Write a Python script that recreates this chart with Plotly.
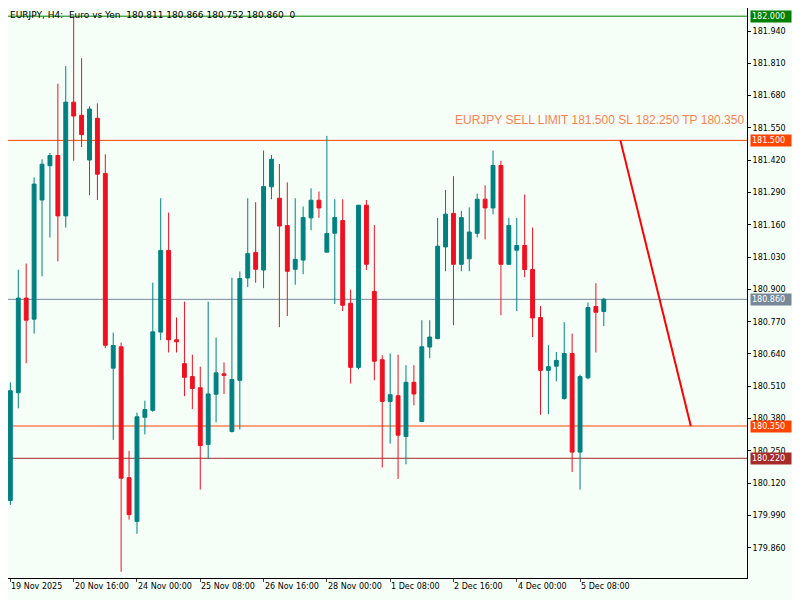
import plotly.graph_objects as go

# H4 bars
opens = [180.050, 180.484, 180.865, 180.780, 181.260, 181.398, 181.439, 181.196, 181.654, 181.601,
         181.421, 181.589, 181.367, 180.583, 180.669, 180.142, 179.966, 180.385, 180.413, 180.728,
         181.057, 180.697, 180.601, 180.549, 180.504, 180.276, 180.478, 180.560, 180.328, 180.534,
         180.946, 181.049, 180.978, 181.313, 181.267, 181.157, 180.981, 181.018, 181.188, 181.259,
         181.050, 181.126, 181.177, 180.844, 180.586, 181.239, 180.892, 180.617, 180.449, 180.472,
         180.308, 180.526, 180.368, 180.668, 180.702, 181.071, 181.206, 181.001, 181.023, 181.126,
         181.263, 181.228, 181.399, 181.001, 181.058, 181.077, 180.980, 180.787, 180.574, 180.591,
         180.461, 180.642, 180.245, 180.544, 180.831, 180.811]
highs = [180.526, 180.979, 181.004, 181.351, 181.424, 181.449, 181.728, 181.799, 182.003, 181.831,
         181.637, 181.649, 181.444, 180.726, 180.686, 180.250, 180.404, 180.452, 180.927, 181.267,
         181.209, 180.787, 180.851, 180.637, 180.589, 180.851, 180.706, 180.606, 180.947, 180.972,
         181.267, 181.251, 181.459, 181.441, 181.405, 181.331, 181.267, 181.234, 181.307, 181.294,
         181.518, 181.263, 181.263, 180.899, 181.239, 181.260, 181.159, 180.635, 180.642, 180.637,
         180.595, 180.595, 180.776, 180.776, 181.188, 181.300, 181.356, 181.216, 181.230, 181.285,
         181.319, 181.459, 181.418, 181.188, 181.188, 181.282, 181.149, 180.833, 180.675, 180.648,
         180.768, 180.722, 180.557, 180.847, 180.925, 180.866]
lows = [180.032, 180.421, 180.603, 180.722, 180.953, 181.109, 181.013, 181.149, 181.418, 181.473,
        181.279, 181.260, 180.663, 180.294, 179.763, 179.973, 179.916, 180.316, 180.407, 180.696,
        180.646, 180.646, 180.470, 180.418, 180.094, 180.217, 180.365, 180.479, 180.324, 180.336,
        180.909, 180.927, 180.905, 181.263, 180.748, 180.793, 180.919, 180.961, 181.138, 181.188,
        181.050, 180.841, 180.813, 180.521, 180.578, 180.978, 180.534, 180.183, 180.279, 180.137,
        180.196, 180.433, 180.368, 180.623, 180.699, 180.973, 180.756, 180.973, 180.973, 181.109,
        181.101, 181.202, 180.796, 180.998, 180.813, 180.949, 180.708, 180.395, 180.398, 180.530,
        180.456, 180.165, 180.094, 180.538, 180.646, 180.752]
closes = [180.492, 180.865, 180.776, 181.324, 181.404, 181.439, 181.196, 181.654, 181.598, 181.523,
          181.626, 181.364, 180.675, 180.674, 180.140, 179.993, 180.387, 180.416, 180.729, 181.057,
          180.697, 180.689, 180.546, 180.501, 180.271, 180.479, 180.564, 180.554, 180.537, 180.944,
          181.044, 180.981, 181.314, 181.424, 181.155, 180.973, 181.021, 181.189, 181.259, 181.228,
          181.125, 181.189, 180.836, 180.586, 181.239, 181.001, 180.611, 180.449, 180.476, 180.313,
          180.526, 180.479, 180.669, 180.708, 181.074, 181.203, 181.001, 181.189, 181.131, 181.263,
          181.228, 181.399, 181.001, 181.157, 181.077, 180.980, 180.785, 180.574, 180.589, 180.614,
          180.642, 180.245, 180.549, 180.827, 180.808, 180.860]

date_labels = ["19 Nov 2025", "20 Nov 16:00", "24 Nov 00:00", "25 Nov 08:00", "26 Nov 16:00",
               "28 Nov 00:00", "1 Dec 08:00", "2 Dec 16:00", "4 Dec 00:00", "5 Dec 08:00"]
date_bars = [0, 8, 16, 24, 32, 40, 48, 56, 64, 72]

price_ticks = [181.940, 181.810, 181.680, 181.550, 181.420, 181.290, 181.160, 181.030, 180.900,
               180.770, 180.640, 180.510, 180.380, 180.250, 180.120, 179.990, 179.860]

# horizontal levels: price, colour
levels = [(182.000, "#008000"),
          (181.500, "#FF4500"),
          (180.860, "#778899"),
          (180.350, "#FF4500"),
          (180.220, "#A52A2A")]

trend_x = [77.1, 86.0]
trend_y = [181.500, 180.350]

bars = list(range(len(opens)))
teal = "#008080"
red = "#EE1122"
small = dict(size=8, color="black", family="DejaVu Sans")

fig = go.Figure()
fig.add_trace(go.Candlestick(
    x=bars, open=opens, high=highs, low=lows, close=closes,
    increasing=dict(line=dict(color=teal, width=1), fillcolor=teal),
    decreasing=dict(line=dict(color=red, width=1), fillcolor=red),
    whiskerwidth=0, hoverinfo="skip", showlegend=False))

for p, c in levels:
    fig.add_shape(type="line", xref="paper", x0=0, x1=1, y0=p, y1=p,
                  line=dict(color=c, width=1), layer="below")
    fig.add_annotation(xref="paper", x=1.004, y=p, xanchor="left", text=f"{p:.3f}",
                       showarrow=False, bgcolor=c, font=dict(color="white", size=8, family="DejaVu Sans"),
                       borderpad=1, width=38, align="left")

fig.add_trace(go.Scatter(x=trend_x, y=trend_y, mode="lines", line=dict(color="#FF0000", width=2),
                         hoverinfo="skip", showlegend=False))

fig.add_annotation(xref="paper", x=0.998, y=181.545, yanchor="bottom", xanchor="right",
                   text="EURJPY SELL LIMIT 181.500 SL 182.250 TP 180.350", showarrow=False,
                   font=dict(color="#FF7F50", size=12, family="Liberation Sans"))
fig.add_annotation(xref="paper", yref="paper", x=0.0, y=1.0, xanchor="left", yanchor="top",
                   text="EURJPY, H4:  Euro vs Yen  180.811 180.866 180.752 180.860  0",
                   showarrow=False, font=dict(size=9, color="black", family="DejaVu Sans"))

for b, lab in zip(date_bars, date_labels):
    fig.add_annotation(x=b, yref="paper", y=0, yanchor="top", xanchor="left", text=lab,
                       showarrow=False, xshift=-1, yshift=-2, font=small)

fig.update_layout(
    width=792, height=592, margin=dict(l=0, r=53, t=0, b=22, autoexpand=False),
    plot_bgcolor="#F5FFF8", paper_bgcolor="#F5FFF8",
    xaxis=dict(range=[-0.3, 93.1], rangeslider=dict(visible=False), showgrid=False,
               zeroline=False, tickvals=date_bars, ticks="outside", ticklen=3, showticklabels=False,
               showline=True, linecolor="black", mirror=True, fixedrange=True),
    yaxis=dict(range=[179.738, 182.033], side="right", tickvals=price_ticks,
               ticktext=[f"{v:.3f}" for v in price_ticks], showgrid=False, zeroline=False,
               ticks="outside", ticklen=3, tickcolor="black", showline=True, linecolor="black",
               mirror=True, tickfont=small),
)

fig.write_html("out.html")
